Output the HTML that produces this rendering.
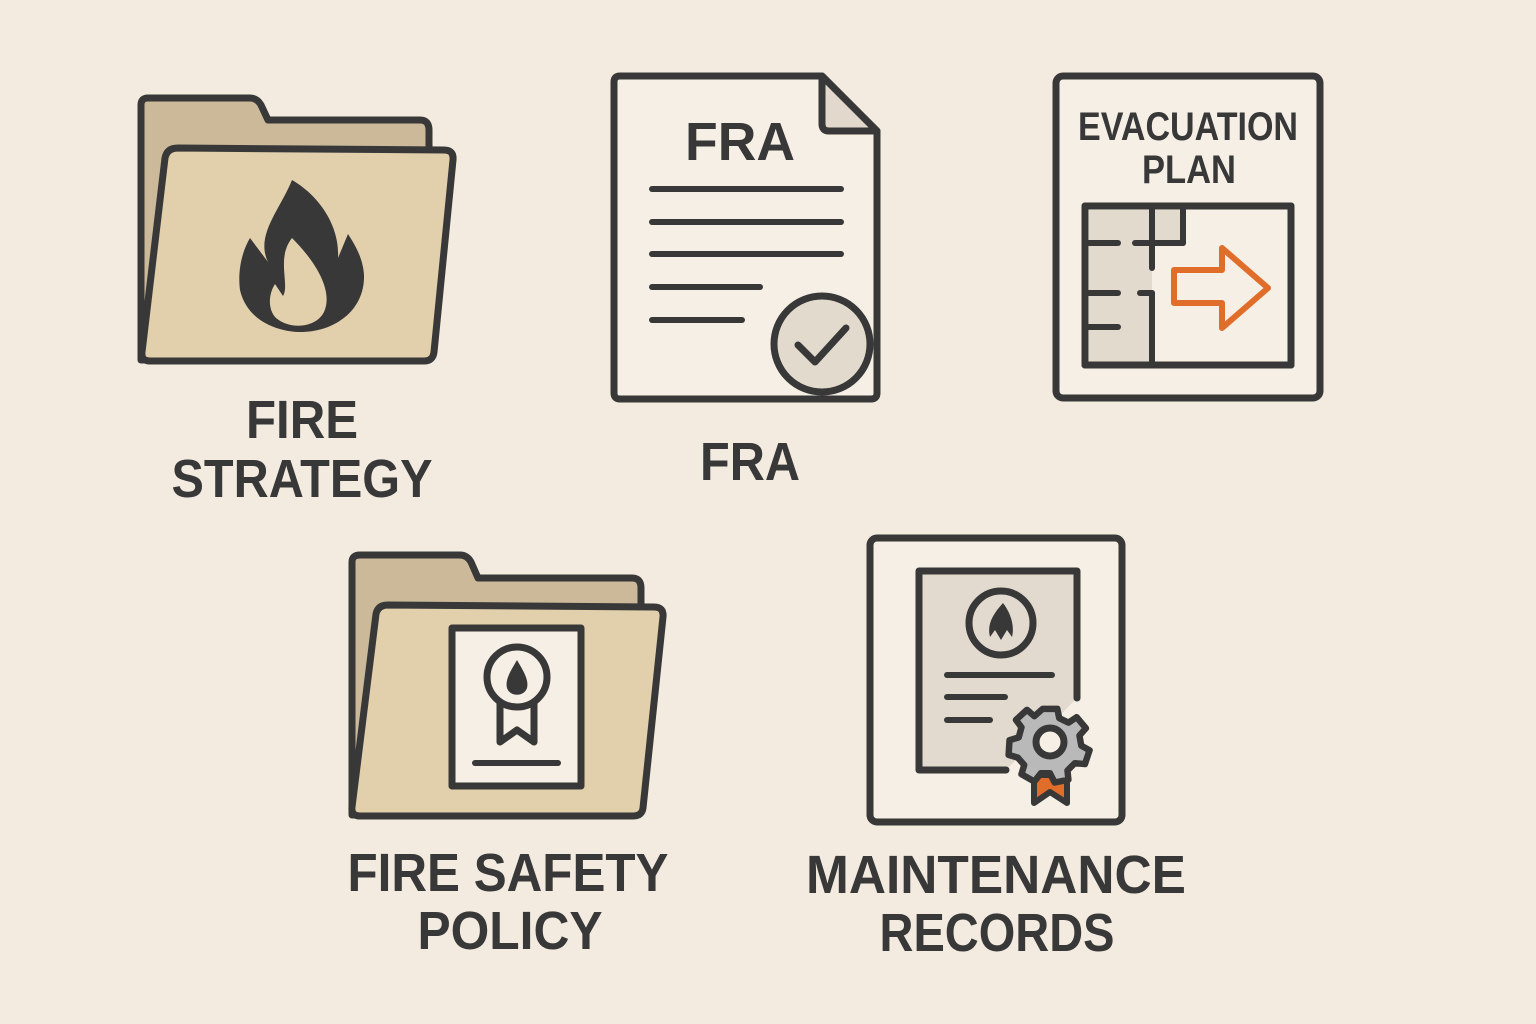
<!DOCTYPE html>
<html><head><meta charset="utf-8"><style>
html,body{margin:0;padding:0;background:#f3ebe0;}
svg{display:block;}
text{font-family:"Liberation Sans",sans-serif;font-weight:bold;fill:#383838;}
</style></head><body>
<svg width="1536" height="1024" viewBox="0 0 1536 1024" xmlns="http://www.w3.org/2000/svg">
<rect width="1536" height="1024" fill="#f3ebe0"/>
<g stroke="#383838" stroke-width="7" stroke-linejoin="round" stroke-linecap="round">
<!-- Folder 1 -->
<path d="M148 98 L250 98 Q257 98 261 105 L268 120 L420 120 Q429 120 429 130 L429 150 L150 360 L141 360 L141 105 Q141 98 148 98 Z" fill="#cbb99a"/>
<path d="M178 148 L444 150 Q454 150 453 160 L434 352 Q433 361 424 361 L150 361 Q141 361 142 352 L165 158 Q167 148 178 148 Z" fill="#e2cfac"/>
<path d="M292 180 C 280 210 255 235 268 262 L250 238 C 240 255 238 275 240 290 C 248 325 285 332 300 332 C 335 332 365 310 364 275 C 363 258 355 245 348 234 L338 258 C 340 225 318 195 292 180 Z" fill="#383838" stroke="none"/>
<path d="M292 238 C 276 258 290 285 283 296 L275 284 C 268 295 268 310 276 318 C 290 330 316 328 324 312 C 332 295 322 268 292 238 Z" fill="#e2cfac" stroke="none"/>
<!-- FRA doc -->
<path d="M620 76 L822 76 L877 131 L877 393 Q877 399 871 399 L620 399 Q614 399 614 393 L614 82 Q614 76 620 76 Z" fill="#f6efe5"/>
<path d="M822 76 L822 124 Q822 131 829 131 L877 131 Z" fill="#e2d9cc"/>
<g stroke-width="6">
<line x1="652" y1="189" x2="841" y2="189"/>
<line x1="652" y1="222" x2="841" y2="222"/>
<line x1="652" y1="254" x2="841" y2="254"/>
<line x1="652" y1="287" x2="760" y2="287"/>
<line x1="652" y1="320" x2="742" y2="320"/>
</g>
<circle cx="822" cy="344" r="48" fill="#e2dacd"/>
<path d="M798 345 L815 362 L846 328" fill="none"/>
<!-- Evacuation -->
<rect x="1056" y="76" width="264" height="322" rx="7" fill="#f6efe5"/>
<rect x="1085" y="206" width="206" height="159" fill="#f6efe5"/>
<path d="M1089 210 L1152 210 L1152 362 L1089 362 Z M1152 210 L1182 210 L1182 243 L1152 243 Z" fill="#e2dacd" stroke="none"/>
<rect x="1085" y="206" width="206" height="159" fill="none"/>
<g stroke-width="6">
<line x1="1152" y1="206" x2="1152" y2="268"/>
<line x1="1183" y1="206" x2="1183" y2="243"/>
<line x1="1135" y1="243" x2="1183" y2="243"/>
<line x1="1085" y1="243" x2="1118" y2="243"/>
<line x1="1085" y1="293" x2="1118" y2="293"/>
<line x1="1140" y1="293" x2="1152" y2="293"/>
<line x1="1152" y1="293" x2="1152" y2="365"/>
<line x1="1085" y1="327" x2="1118" y2="327"/>
</g>
<path d="M1174 270 L1222 270 L1222 248 L1268 288 L1222 328 L1222 303 L1174 303 Z" fill="none" stroke="#e06d2a" stroke-width="6"/>
<!-- Folder 2 -->
<path d="M360 555 L460 555 Q467 555 471 562 L478 578 L632 578 Q641 578 641 588 L641 607 L360 815 L352 815 L352 562 Q352 555 360 555 Z" fill="#cbb99a"/>
<path d="M388 605 L654 607 Q664 607 663 617 L643 808 Q642 816 633 816 L360 816 Q351 816 352 807 L376 614 Q378 605 388 605 Z" fill="#e2cfac"/>
<rect x="452" y="628" width="129" height="158" fill="#f6efe5"/>
<path d="M500 700 L500 742 L517 730 L534 742 L534 700" fill="#f6efe5"/>
<circle cx="517" cy="677" r="30" fill="#f6efe5"/>
<path d="M517 660 C 510 672 505 680 507 688 C 510 697 524 697 527 688 C 529 680 524 672 517 660 Z" fill="#383838" stroke="none"/>
<line x1="475" y1="763" x2="558" y2="763" stroke-width="6"/>
<!-- Maintenance -->
<rect x="870" y="538" width="252" height="284" rx="7" fill="#f6efe5"/>
<path d="M1006 770 L919 770 L919 571 L1077 571 L1077 698" fill="#e2dace"/>
<circle cx="1001" cy="623" r="32" fill="#e2dace"/>
<path d="M1003 603 C 992 615 987 625 990 637 L995 630 L1001 640 L1007 630 L1012 637 C 1015 625 1010 612 1003 603 Z" fill="#383838" stroke="none"/>
<g stroke-width="6">
<line x1="947" y1="675" x2="1052" y2="675"/>
<line x1="947" y1="697" x2="1005" y2="697"/>
<line x1="947" y1="720" x2="990" y2="720"/>
</g>
<path d="M1034 775 L1034 803 L1050 792 L1067 803 L1067 775 Z" fill="#e06d2a" stroke-width="6"/>
<g transform="translate(1050 742)">
<path d="M-8 -36 L8 -36 L10 -26 L20 -21 L29 -27 L39 -15 L32 -7 L34 4 L43 9 L38 24 L27 23 L19 31 L20 41 L5 44 L0 34 L-10 34 L-17 43 L-31 35 L-28 25 L-35 17 L-45 14 L-44 -2 L-34 -5 L-31 -16 L-37 -24 L-25 -35 L-17 -28 Z" fill="#b9b9b9" transform="scale(0.92)"/>
<circle r="14" fill="#f6efe5"/>
</g>
</g>
<!-- Labels -->
<text x="740" y="160" font-size="54" text-anchor="middle" textLength="110" lengthAdjust="spacingAndGlyphs">FRA</text>
<text x="1188" y="140" font-size="40" text-anchor="middle" textLength="220" lengthAdjust="spacingAndGlyphs">EVACUATION</text>
<text x="1189" y="183" font-size="40" text-anchor="middle" textLength="94" lengthAdjust="spacingAndGlyphs">PLAN</text>
<text x="302" y="438" font-size="54" text-anchor="middle" textLength="112" lengthAdjust="spacingAndGlyphs">FIRE</text>
<text x="302" y="497" font-size="54" text-anchor="middle" textLength="261" lengthAdjust="spacingAndGlyphs">STRATEGY</text>
<text x="750" y="480" font-size="54" text-anchor="middle" textLength="100" lengthAdjust="spacingAndGlyphs">FRA</text>
<text x="508" y="891" font-size="54" text-anchor="middle" textLength="321" lengthAdjust="spacingAndGlyphs">FIRE SAFETY</text>
<text x="510" y="949" font-size="54" text-anchor="middle" textLength="185" lengthAdjust="spacingAndGlyphs">POLICY</text>
<text x="996" y="893" font-size="54" text-anchor="middle" textLength="380" lengthAdjust="spacingAndGlyphs">MAINTENANCE</text>
<text x="997" y="951" font-size="54" text-anchor="middle" textLength="235" lengthAdjust="spacingAndGlyphs">RECORDS</text>
</svg>
</body></html>
